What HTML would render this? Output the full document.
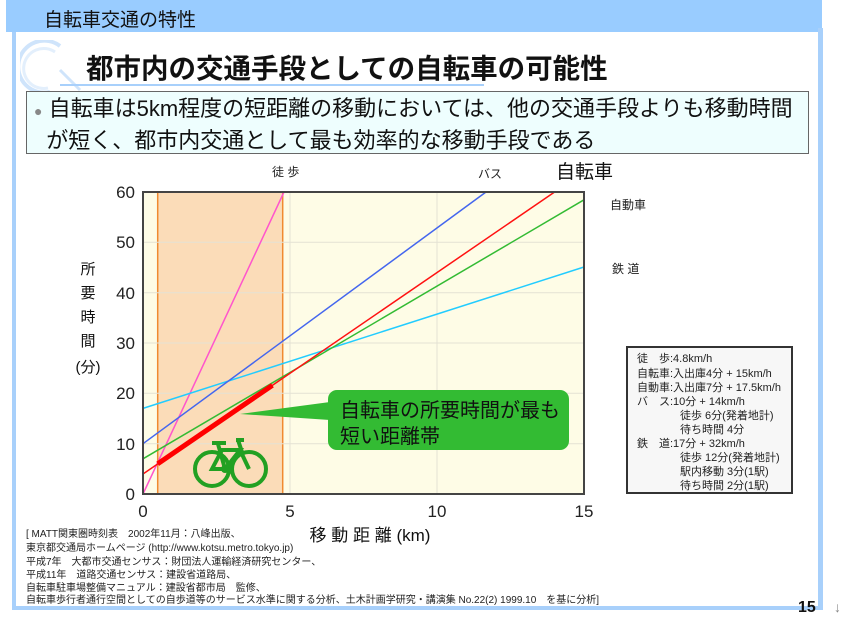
<!DOCTYPE html>
<html><head><meta charset="utf-8"><style>
body{margin:0;width:850px;height:618px;background:#fff;overflow:hidden;position:relative;font-family:"Liberation Sans","Noto Sans CJK JP",sans-serif;}
.a{position:absolute;white-space:nowrap;}
</style></head><body>
<div class="a" style="left:6px;top:0;width:816px;height:32px;background:#99ccff;"></div>
<div class="a" style="left:44px;top:5px;font-size:19px;color:#111;">自転車交通の特性</div>
<div class="a" style="left:12px;top:32px;width:4px;height:578px;background:#a8d0fb;"></div>
<div class="a" style="left:818px;top:28px;width:5px;height:582px;background:#a8d0fb;"></div>
<div class="a" style="left:12px;top:606px;width:811px;height:4px;background:#a8d0fb;"></div>
<svg class="a" style="left:20px;top:40px" width="70" height="55"><path d="M40 6 A26 26 0 1 0 30 52" fill="none" stroke="#cfe4fb" stroke-width="4"/><path d="M35 12 A20 20 0 1 0 28 48" fill="none" stroke="#e3effc" stroke-width="3"/><line x1="40" y1="30" x2="60" y2="50" stroke="#cfe4fb" stroke-width="3"/></svg>
<div class="a" style="left:86px;top:46px;font-size:27.5px;font-weight:bold;color:#111;">都市内の交通手段としての自転車の可能性</div>
<div class="a" style="left:60px;top:84px;width:424px;height:2px;background:#a8d0fb;"></div>
<div class="a" style="left:26px;top:91px;width:783px;height:63px;border:1px solid #666;background:#eefefe;box-sizing:border-box;"></div>
<div class="a" style="left:34px;top:94px;font-size:22px;color:#111;line-height:29px;"><span style="color:#888;font-size:14px">●</span> 自転車は5km程度の短距離の移動においては、他の交通手段よりも移動時間<br>&nbsp;&nbsp;が短く、都市内交通として最も効率的な移動手段である</div>

<svg class="a" style="left:0;top:0" width="850" height="618" font-family="Liberation Sans, Noto Sans CJK JP, sans-serif">
<rect x="143" y="192" width="441" height="302" fill="#fefce6"/>
<rect x="157.7" y="192" width="125" height="302" fill="#fbdcb8" stroke="#f08a30" stroke-width="1.5"/>
<g stroke="#e4e2d4" stroke-width="1">
<line x1="143" y1="242.3" x2="584" y2="242.3"/><line x1="143" y1="292.7" x2="584" y2="292.7"/><line x1="143" y1="343" x2="584" y2="343"/><line x1="143" y1="393.3" x2="584" y2="393.3"/><line x1="143" y1="443.7" x2="584" y2="443.7"/>
<line x1="290" y1="192" x2="290" y2="494"/><line x1="437" y1="192" x2="437" y2="494"/></g>
<line x1="143" y1="494" x2="284" y2="192" stroke="#ff55cc" stroke-width="1.5"/>
<line x1="143" y1="408.4" x2="584" y2="267" stroke="#22ccff" stroke-width="1.5"/>
<line x1="143" y1="443.7" x2="486" y2="192" stroke="#4466ee" stroke-width="1.5"/>
<line x1="143" y1="458.8" x2="584" y2="199.8" stroke="#33bb33" stroke-width="1.5"/>
<line x1="143" y1="474" x2="554.6" y2="192" stroke="#ff1111" stroke-width="1.5"/>
<line x1="157.7" y1="463.8" x2="272.4" y2="385.3" stroke="#ff0000" stroke-width="5"/>
<rect x="143" y="192" width="441" height="302" fill="none" stroke="#444" stroke-width="2"/>
<g font-size="17" fill="#222" text-anchor="end">
<text x="135" y="198">60</text><text x="135" y="248">50</text><text x="135" y="299">40</text><text x="135" y="349">30</text><text x="135" y="399">20</text><text x="135" y="450">10</text><text x="135" y="500">0</text></g>
<g font-size="17" fill="#222" text-anchor="middle">
<text x="143" y="517">0</text><text x="290" y="517">5</text><text x="437" y="517">10</text><text x="584" y="517">15</text></g>
<text x="370" y="541" font-size="17" text-anchor="middle" fill="#111">移 動 距 離 (km)</text>
<g font-size="15" fill="#111" text-anchor="middle"><text x="88" y="274">所</text><text x="88" y="298">要</text><text x="88" y="322">時</text><text x="88" y="346">間</text><text x="88" y="372">(分)</text></g>
<text x="272" y="176" font-size="12" fill="#222">徒 歩</text>
<text x="478" y="178" font-size="12" fill="#222">バス</text>
<text x="556" y="178" font-size="19" fill="#111">自転車</text>
<text x="610" y="209" font-size="12" fill="#222">自動車</text>
<text x="612" y="273" font-size="12" fill="#222">鉄 道</text>
<path d="M240 414 L330 402 L330 420 Z" fill="#33bb33"/>
<rect x="328" y="390" width="241" height="60" rx="9" fill="#33bb33"/>
<text x="340" y="417" font-size="20" fill="#111">自転車の所要時間が最も</text>
<text x="340" y="443" font-size="20" fill="#111">短い距離帯</text>
<g stroke="#22a022" stroke-width="4" fill="none"><circle cx="212" cy="469" r="17"/><circle cx="249" cy="469" r="17"/><path d="M212 469 L225 469 L240 450 L222 450 Z M225 469 L218 444 M240 450 L249 469 M238 440 L242 452"/><path d="M212 443 h14 M236 440 h8"/></g>
<circle cx="225" cy="469" r="4" fill="#22a022"/>
<rect x="627" y="347" width="165" height="146" fill="#f7f7f7" stroke="#333" stroke-width="2"/>
<g font-size="11" fill="#222"><text x="637" y="362">徒　歩:4.8km/h</text><text x="637" y="377">自転車:入出庫4分 + 15km/h</text><text x="637" y="391">自動車:入出庫7分 + 17.5km/h</text><text x="637" y="405">バ　ス:10分 + 14km/h</text><text x="680" y="419">徒歩 6分(発着地計)</text><text x="680" y="433">待ち時間 4分</text><text x="637" y="447">鉄　道:17分 + 32km/h</text><text x="680" y="461">徒歩 12分(発着地計)</text><text x="680" y="475">駅内移動 3分(1駅)</text><text x="680" y="489">待ち時間 2分(1駅)</text></g>
<g font-size="10" fill="#222"><text x="26" y="537">[ MATT関東圏時刻表　2002年11月：八峰出版、</text><text x="26" y="551">東京都交通局ホームページ (http://www.kotsu.metro.tokyo.jp)</text><text x="26" y="565">平成7年　大都市交通センサス：財団法人運輸経済研究センター、</text><text x="26" y="578">平成11年　道路交通センサス：建設省道路局、</text><text x="26" y="591">自転車駐車場整備マニュアル：建設省都市局　監修、</text><text x="26" y="603">自転車歩行者通行空間としての自歩道等のサービス水準に関する分析、土木計画学研究・講演集 No.22(2) 1999.10　を基に分析]</text></g>
<text x="798" y="612" font-size="16" font-weight="bold" fill="#111">15</text>
<text x="834" y="612" font-size="14" fill="#888">↓</text>
</svg>
</body></html>
